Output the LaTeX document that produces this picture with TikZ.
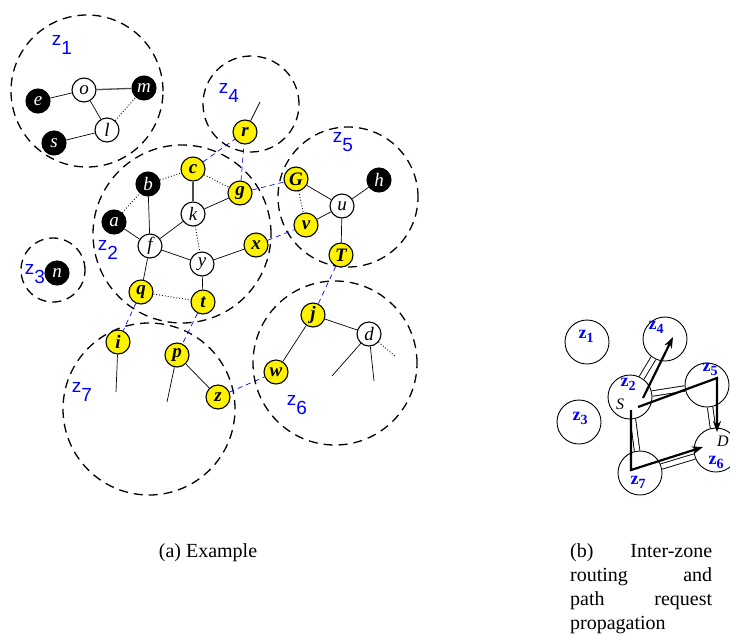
\documentclass[tikz,border=0pt]{standalone}
\usepackage{fontspec}
\setmainfont{Liberation Serif}
\newfontfamily\zsans{Liberation Sans}
\usetikzlibrary{arrows.meta}

\begin{document}
\begin{tikzpicture}[x=1pt,y=-1pt,
  vtx/.style={circle,draw,line width=1.1pt,minimum size=24pt,inner sep=0pt,
    font=\fontsize{19}{19}\selectfont\itshape},
  wv/.style={vtx,fill=white},
  bv/.style={vtx,fill=black,text=white},
  yv/.style={vtx,fill=yellow,font=\fontsize{19}{19}\selectfont\bfseries\itshape},
  zone/.style={circle,draw,dash pattern=on 9pt off 6pt,line width=1.3pt,inner sep=0pt},
  zlab/.style={text=blue,inner sep=0pt,font=\zsans\fontsize{19}{19}\selectfont},
  edge/.style={line width=0.7pt},
  thk/.style={line width=1.3pt,black!70},
  dotl/.style={line width=0.9pt,dotted},
  link/.style={blue,line width=0.7pt,dash pattern=on 5pt off 4pt},
  bzone/.style={circle,draw,line width=0.9pt,minimum size=44pt,inner sep=0pt},
  blab/.style={text=blue,inner sep=0pt,font=\fontsize{18}{18}\selectfont\bfseries},
  dbl/.style={double,double distance=4.5pt,line width=0.9pt},
  route/.style={line width=2.2pt,-{Stealth[length=11pt,width=8pt]}},
  captxt/.style={inner sep=0pt,font=\fontsize{20}{24}\selectfont}
]
\useasboundingbox (0,0) rectangle (730,635);

% ---------- zones of the example ----------
\node[zone,minimum size=152pt] (Z1) at (87,91) {};
\node[zone,minimum size=96pt]  (Z4) at (251,104) {};
\node[zone,minimum size=178pt] (Z2) at (182,234) {};
\node[zone,minimum size=140pt] (Z5) at (348,197) {};
\node[zone,minimum size=64pt]  (Z3) at (53,270) {};
\node[zone,minimum size=172pt] (Z7) at (149,409) {};
\node[zone,minimum size=164pt] (Z6) at (335,363) {};

\node[zlab] at (62,45)  {z\raisebox{-9pt}{1}};
\node[zlab] at (229,93) {z\raisebox{-9pt}{4}};
\node[zlab] at (108,250){z\raisebox{-9pt}{2}};
\node[zlab] at (343,142){z\raisebox{-9pt}{5}};
\node[zlab] at (35,274) {z\raisebox{-9pt}{3}};
\node[zlab] at (82,392) {z\raisebox{-9pt}{7}};
\node[zlab] at (297,405){z\raisebox{-9pt}{6}};

% ---------- nodes ----------
\node[bv] (e) at (38,101) {e};
\node[wv] (o) at (84,90)  {o};
\node[bv] (m) at (144,88) {m};
\node[wv] (l) at (107,130){l};
\node[bv] (s) at (54,143) {s};

\node[yv] (r) at (245,132){r};
\coordinate (rs) at (260,102);

\node[bv] (b) at (148,184){b};
\node[yv] (c) at (193,169){c};
\node[bv] (a) at (114,222){a};
\node[wv] (k) at (193,214){k};
\node[yv] (g) at (240,193){g};
\node[wv] (f) at (150,246){f};
\node[wv] (y) at (202,264){y};
\node[yv] (x) at (256,245){x};
\node[yv] (q) at (141,292){q};
\node[yv] (t) at (203,302){t};

\node[yv] (G) at (296,179){G};
\node[wv] (u) at (342,206){u};
\node[bv] (h) at (379,180){h};
\node[yv] (v) at (306,225){v};
\node[yv] (T) at (341,255){T};

\node[bv] (n) at (57,273) {n};

\node[yv] (i) at (118,342){i};
\coordinate (is) at (116,392);
\node[yv] (p) at (177,355){p};
\coordinate (ps) at (167,402);
\node[yv] (z) at (218,397){z};

\node[yv] (j) at (313,315){j};
\node[wv] (d) at (369,334){d};
\node[yv] (w) at (276,372){w};
\coordinate (d1) at (332,376);
\coordinate (d2) at (374,381);
\coordinate (d3) at (396,357);

% ---------- intra-zone links ----------
\draw[edge] (e) -- (o);
\draw[thk]  (o) -- (m);
\draw[edge] (o) -- (l);
\draw[edge] (s) -- (l);
\draw[dotl] (l) -- (m);

\draw[edge] (r) -- (rs);

\draw[dotl] (b) -- (c);
\draw[dotl] (a) -- (b);
\draw[thk]  (c) -- (k);
\draw[dotl] (c) -- (g);
\draw[edge] (k) -- (g);
\draw[edge] (b) -- (f);
\draw[edge] (a) -- (f);
\draw[edge] (f) -- (k);
\draw[edge] (f) -- (y);
\draw[dotl] (k) -- (y);
\draw[edge] (y) -- (x);
\draw[edge] (f) -- (q);
\draw[edge] (y) -- (t);
\draw[dotl] (q) -- (t);

\draw[edge] (G) -- (u);
\draw[edge] (h) -- (u);
\draw[edge] (v) -- (u);
\draw[edge] (u) -- (T);
\draw[dotl] (G) -- (v);

\draw[edge] (i) -- (is);
\draw[edge] (p) -- (ps);
\draw[edge] (p) -- (z);

\draw[edge] (j) -- (d);
\draw[edge] (j) -- (w);
\draw[edge] (d) -- (d1);
\draw[edge] (d) -- (d2);
\draw[dotl] (d) -- (d3);

% ---------- inter-zone links ----------
\draw[link] (c) -- (r);
\draw[link] (g) -- (r);
\draw[link] (g) -- (G);
\draw[link] (x) -- (v);
\draw[link] (T) -- (j);
\draw[link] (q) -- (i);
\draw[link] (t) -- (p);
\draw[link] (z) -- (w);

% ---------- inter-zone routing ----------
\node[bzone] (B1) at (587,342) {};
\node[bzone] (B3) at (579,422) {};
\node[bzone] (B4) at (665,339) {};
\node[bzone] (B2) at (630,397) {};
\node[bzone] (B5) at (707,385) {};
\node[bzone] (B6) at (716,450) {};
\node[bzone] (B7) at (640,473) {};

\draw[dbl] (B2) -- (B4);
\draw[dbl] (B2) -- (B5);
\draw[dbl] (B2) -- (B7);
\draw[dbl] (B5) -- (B6);
\draw[dbl] (B7) -- (B6);

\node[blab] at (586,336) {z\raisebox{-4pt}{\fontsize{14}{14}\selectfont 1}};
\node[blab] at (580,418) {z\raisebox{-4pt}{\fontsize{14}{14}\selectfont 3}};
\node[blab] at (656,327) {z\raisebox{-4pt}{\fontsize{14}{14}\selectfont 4}};
\node[blab] at (628,384) {z\raisebox{-4pt}{\fontsize{14}{14}\selectfont 2}};
\node[blab] at (710,369) {z\raisebox{-4pt}{\fontsize{14}{14}\selectfont 5}};
\node[blab] at (716,462) {z\raisebox{-4pt}{\fontsize{14}{14}\selectfont 6}};
\node[blab] at (638,482) {z\raisebox{-4pt}{\fontsize{14}{14}\selectfont 7}};

\node[inner sep=0pt,font=\fontsize{16}{16}\selectfont\itshape] (S) at (620,404) {S};
\node[inner sep=0pt,font=\fontsize{16}{16}\selectfont\itshape] (D) at (723,441) {D};

\coordinate (s1) at (643,398);
\coordinate (e1) at (673,337);
\coordinate (s2) at (638,407);
\coordinate (m2) at (717,378);
\coordinate (e2) at (717,432);
\coordinate (s3) at (631,410);
\coordinate (m3) at (631,470);
\coordinate (e3) at (703,447);
\draw[route] (s1) -- (e1);
\draw[route] (s2) -- (m2) -- (e2);
\draw[route] (s3) -- (m3) -- (e3);

% ---------- captions ----------
\node[captxt] (capa) at (208,553) {(a) Example};
\node[captxt,anchor=north west,align=left] (capb) at (570,543)
  {\hbox to 142pt{(b)\hfill Inter-zone}\\
   \hbox to 142pt{routing\hfill and}\\
   \hbox to 142pt{path\hfill request}\\
   propagation};
\end{tikzpicture}
\end{document}
